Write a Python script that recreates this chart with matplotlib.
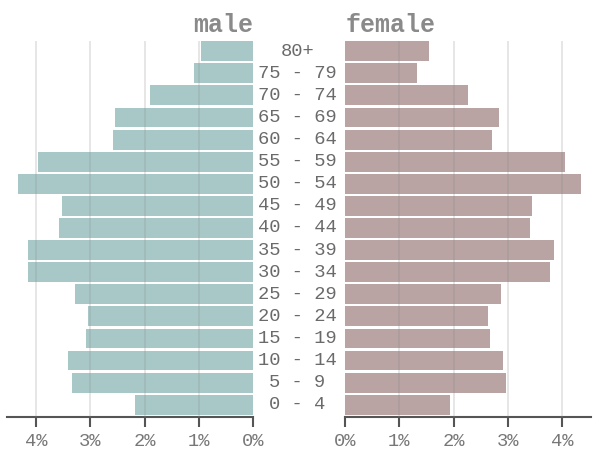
import matplotlib.pyplot as plt
import matplotlib.transforms as mtransforms

plt.rcParams['font.family'] = ['Liberation Mono', 'DejaVu Sans Mono']

ages = ['0 - 4', '5 - 9', '10 - 14', '15 - 19', '20 - 24', '25 - 29',
        '30 - 34', '35 - 39', '40 - 44', '45 - 49', '50 - 54', '55 - 59',
        '60 - 64', '65 - 69', '70 - 74', '75 - 79', '80+']
male = [2.18, 3.33, 3.41, 3.08, 3.04, 3.28, 4.14, 4.14, 3.57, 3.53,
        4.34, 3.97, 2.59, 2.55, 1.90, 1.09, 0.97]
female = [1.94, 2.97, 2.92, 2.68, 2.63, 2.88, 3.78, 3.86, 3.41, 3.45,
          4.35, 4.06, 2.71, 2.84, 2.27, 1.33, 1.54]
ticks = [0, 1, 2, 3, 4]
tick_labels = ['0%', '1%', '2%', '3%', '4%']

male_color = '#a8c8c8'
female_color = '#b9a3a3'
xmax = 4.54

fig = plt.figure(figsize=(5.97, 4.54), dpi=100)
bottom, top = 0.0808, 0.909
ax_m = fig.add_axes([0.0112, bottom, 0.4131, top - bottom])
ax_f = fig.add_axes([0.5784, bottom, 0.4116, top - bottom])

y = list(range(len(ages)))
ax_m.barh(y, male, height=0.9, color=male_color, zorder=2)
ax_f.barh(y, female, height=0.9, color=female_color, zorder=2)

ax_m.set_xlim(xmax, 0)
ax_f.set_xlim(0, xmax)

for ax in (ax_m, ax_f):
    ax.set_ylim(-0.57, 16.45)
    for s in ('top', 'left', 'right'):
        ax.spines[s].set_visible(False)
    ax.spines['bottom'].set_color('#555555')
    ax.spines['bottom'].set_linewidth(1.5)
    ax.set_yticks([])
    ax.set_xticks(ticks)
    ax.set_xticklabels(tick_labels, fontsize=13.5, color='#777777')
    ax.tick_params(axis='x', length=7, width=1.5, color='#555555', pad=4)
    for t in ticks[1:]:
        ax.axvline(t, color='#888888', alpha=0.25, lw=1.2, zorder=3)

ax_m.text(1, 1.025, 'male', transform=ax_m.transAxes, ha='right', va='baseline',
          fontsize=18, fontweight='bold', color='#8a8a8a')
ax_f.text(0, 1.025, 'female', transform=ax_f.transAxes, ha='left', va='baseline',
          fontsize=18, fontweight='bold', color='#8a8a8a')

# age group labels sit in the gap between the two halves
trans = mtransforms.blended_transform_factory(fig.transFigure, ax_m.transData)
for yi, lab in zip(y, ages):
    fig.text(0.4985, yi, lab, transform=trans, ha='center', va='center',
             fontsize=13.5, color='#6a6a6a')

fig.savefig('out.png', dpi=100)
